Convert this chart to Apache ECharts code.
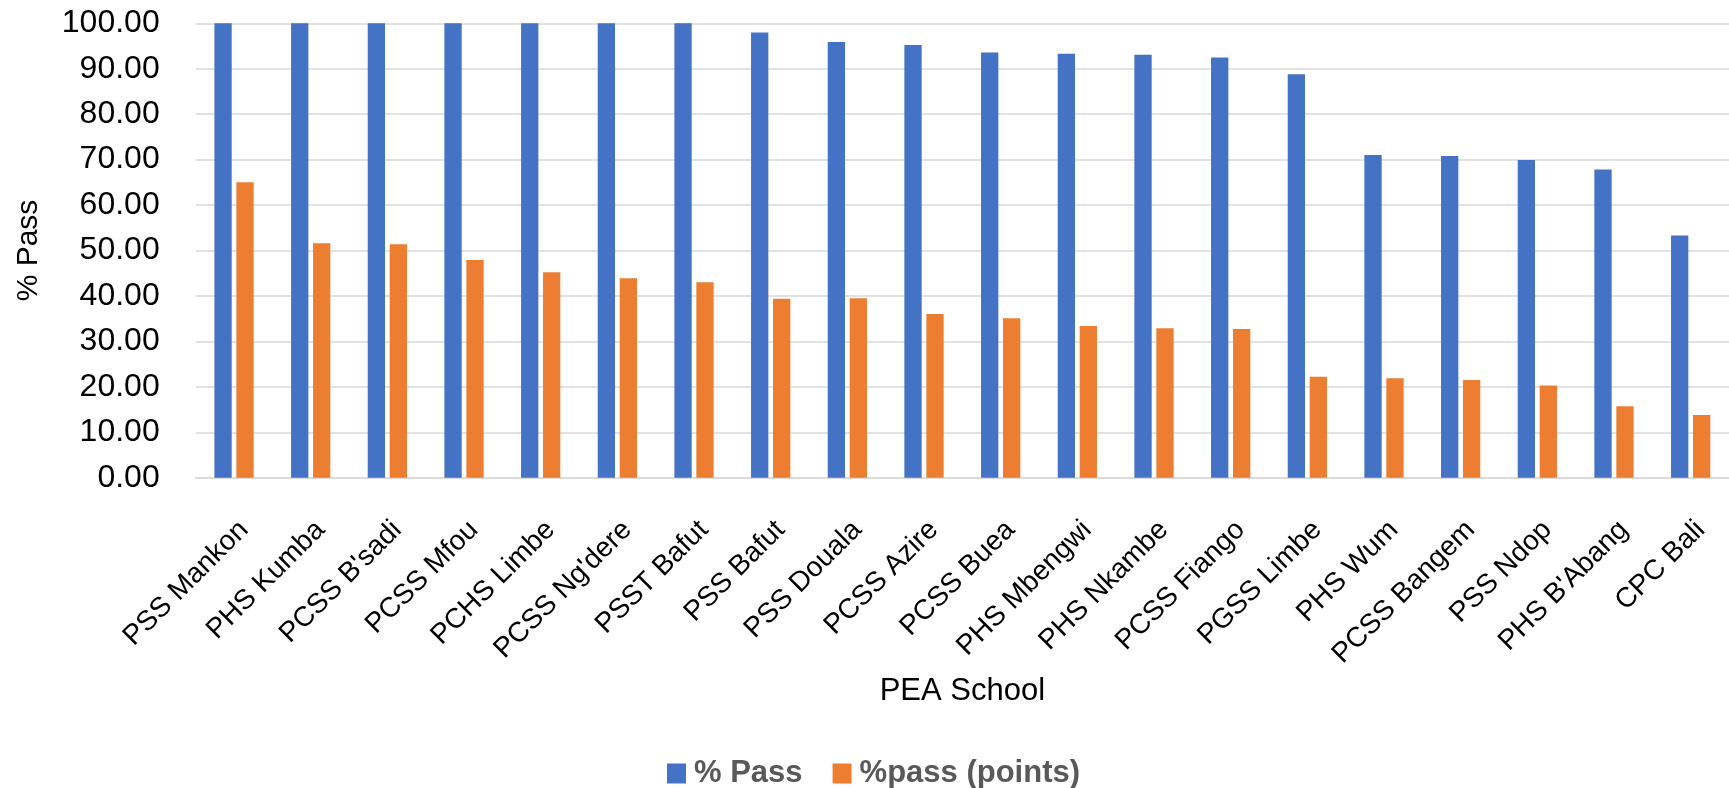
<!DOCTYPE html>
<html>
<head>
<meta charset="utf-8">
<script src="https://cdn.jsdelivr.net/npm/echarts@6/dist/echarts.min.js"></script>
<style>
html,body{margin:0;padding:0;background:#fff;}
#chart{width:1729px;height:788px;}
</style>
</head>
<body>
<div id="chart"></div>
<script>
const categories = ["PSS Mankon","PHS Kumba","PCSS B'sadi","PCSS Mfou","PCHS Limbe","PCSS Ng'dere","PSST Bafut","PSS Bafut","PSS Douala","PCSS Azire","PCSS Buea","PHS Mbengwi","PHS Nkambe","PCSS Fiango","PGSS Limbe","PHS Wum","PCSS Bangem","PSS Ndop","PHS B'Abang","CPC Bali"];
const passPct = [100,100,100,100,100,100,100,98.0,95.9,95.2,93.6,93.3,93.1,92.5,88.8,71.0,70.8,69.9,67.8,53.3];
const passPoints = [65.0,51.6,51.4,47.9,45.2,43.9,43.0,39.4,39.5,36.0,35.1,33.4,32.9,32.7,22.2,21.9,21.5,20.3,15.7,13.8];
const seriesNames = ["% Pass","%pass (points)"];
const yTitle = "% Pass";
const xTitle = "PEA School";

const FONT = "'Liberation Sans', Arial, sans-serif";
const chart = echarts.init(document.getElementById('chart'));
chart.setOption({
  animation: false,
  textStyle: {fontFamily: FONT},
  grid: {left: 195.7, top: 23.3, bottom: 310.3, right: -13.5, containLabel: false},
  legend: {
    data: seriesNames,
    left: 662, top: 753,
    itemWidth: 19, itemHeight: 20, itemGap: 30,
    icon: 'rect',
    textStyle: {fontFamily: FONT, fontSize: 31, fontWeight: 'bold', color: '#595959', padding: [0,0,0,3]}
  },
  xAxis: {
    type: 'category',
    data: categories,
    axisLine: {show: true, lineStyle: {color: '#d9d9d9', width: 1.5}},
    axisTick: {show: false},
    axisLabel: {interval: 0, rotate: 45, margin: 38, verticalAlign: 'top', align: 'right', color: '#000', fontSize: 28, fontFamily: FONT},
    name: xTitle,
    nameLocation: 'middle',
    nameGap: 196,
    nameTextStyle: {color: '#000', fontSize: 31, fontFamily: FONT}
  },
  yAxis: {
    type: 'value',
    min: 0, max: 100, interval: 10,
    axisLine: {show: false},
    axisTick: {show: false},
    splitLine: {show: true, lineStyle: {color: '#d9d9d9', width: 1.5}},
    axisLabel: {margin: 36, color: '#000', fontSize: 32, fontFamily: FONT, formatter: v => v.toFixed(2)},
    name: yTitle,
    nameLocation: 'middle',
    nameGap: 152,
    nameRotate: 90,
    nameTextStyle: {color: '#000', fontSize: 30, fontFamily: FONT}
  },
  series: [
    {name: seriesNames[0], type: 'bar', data: passPct, barWidth: 17.3, barGap: '27%', itemStyle: {color: '#4472C4'}},
    {name: seriesNames[1], type: 'bar', data: passPoints, barWidth: 17.3, itemStyle: {color: '#ED7D31'}}
  ]
});
</script>
</body>
</html>
